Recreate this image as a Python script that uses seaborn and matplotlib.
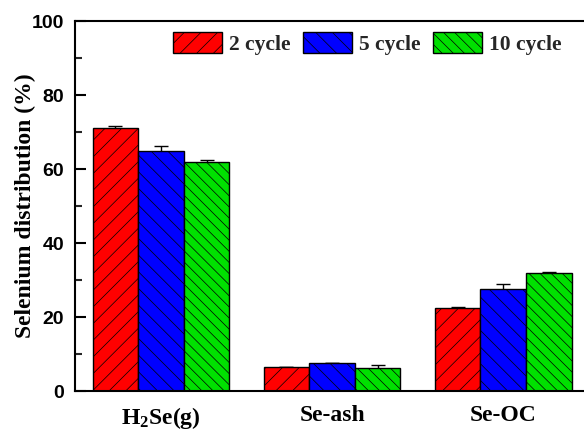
import numpy as np
import pandas as pd
import matplotlib
matplotlib.use("Agg")
import matplotlib.pyplot as plt
import seaborn as sns
from matplotlib.ticker import MultipleLocator

# Selenium distribution among products after repeated cycles
fractions = ["H$_2$Se(g)", "Se-ash", "Se-OC"]
cycles = ["2 cycle", "5 cycle", "10 cycle"]
values_2 = [71.0, 6.5, 22.4]
values_5 = [64.8, 7.6, 27.6]
values_10 = [62.0, 6.2, 32.0]
errors_2 = [0.5, 0.1, 0.3]
errors_5 = [1.5, 0.1, 1.4]
errors_10 = [0.3, 0.7, 0.2]

colors = ["#ff0000", "#0000ff", "#00e000"]
hatches = ["//", "\\\\", "\\\\\\"]

sns.set_theme(style="ticks")
plt.rcParams["hatch.linewidth"] = 0.5
plt.rcParams["hatch.color"] = "black"
plt.rcParams["mathtext.fontset"] = "custom"
plt.rcParams["mathtext.rm"] = "Liberation Serif:bold"
plt.rcParams["mathtext.it"] = "Liberation Serif:bold"
plt.rcParams["mathtext.bf"] = "Liberation Serif:bold"

df = pd.DataFrame({
    "fraction": fractions * 3,
    "cycle": [c for c in cycles for _ in fractions],
    "value": values_2 + values_5 + values_10,
})
err_table = [errors_2, errors_5, errors_10]

fig = plt.figure(figsize=(5.84, 4.30), dpi=100)
ax = fig.add_axes([75 / 584, 1 - 391 / 430, 515 / 584, 370 / 430])

sns.barplot(data=df, x="fraction", y="value", hue="cycle", order=fractions,
            hue_order=cycles, palette=colors, saturation=1, edgecolor="black",
            linewidth=1.0, errorbar=None, legend=False, ax=ax)

bar_groups = list(ax.containers)
for cont, hatch, errs in zip(bar_groups, hatches, err_table):
    xs, ys = [], []
    for bar in cont.patches:
        bar.set_hatch(hatch)
        xs.append(bar.get_x() + bar.get_width() / 2)
        ys.append(bar.get_height())
    ax.errorbar(xs, ys, yerr=errs, fmt="none", ecolor="black", elinewidth=1,
                capsize=5, capthick=1, zorder=0.5)

ax.set_xlim(-0.503, 2.508)
ax.set_ylim(0, 100)
ax.yaxis.set_major_locator(MultipleLocator(20))
ax.yaxis.set_minor_locator(MultipleLocator(10))

for s in ax.spines.values():
    s.set_linewidth(1.5)
    s.set_color("black")

ax.tick_params(axis="y", which="major", direction="in", length=8, width=1.5, pad=8,
               labelsize=14, colors="black")
ax.tick_params(axis="y", which="minor", direction="in", length=5, width=1.5)
ax.tick_params(axis="x", length=0, pad=10)
for lab in ax.get_yticklabels():
    lab.set_fontfamily("Liberation Sans")
    lab.set_fontweight("bold")
for lab in ax.get_xticklabels():
    lab.set_fontfamily("Liberation Serif")
    lab.set_fontweight("bold")
    lab.set_fontsize(17)
    lab.set_color("black")

ax.set_xlabel("")
ax.set_ylabel("Selenium distribution (%)", fontfamily="Liberation Serif",
              fontweight="bold", fontsize=17, color="black")
ax.yaxis.set_label_coords(-0.075, 0.5)

handles = [c.patches[0] for c in bar_groups]
ax.legend(handles, cycles, loc="upper left", bbox_to_anchor=(0.19, 0.97),
          ncol=3, frameon=False, borderpad=0, borderaxespad=0,
          handlelength=2.3, handleheight=1.15, handletextpad=0.33,
          columnspacing=0.55,
          prop={"family": "Liberation Serif", "weight": "bold", "size": 15.5})

fig.savefig("out.png", dpi=100)
